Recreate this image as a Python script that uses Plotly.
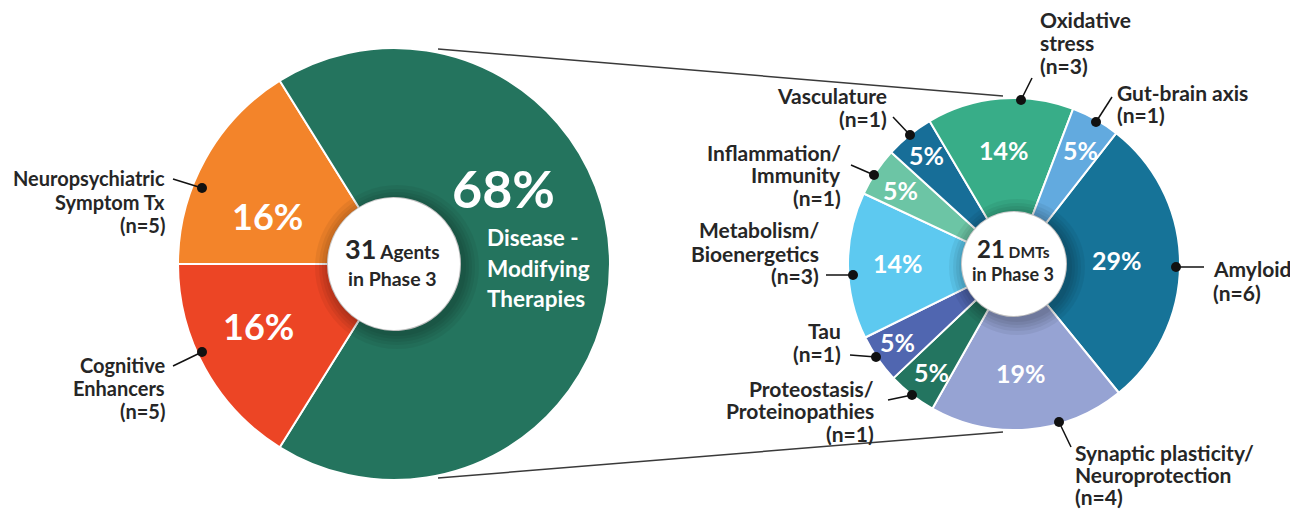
import plotly.graph_objects as go

# the page body adds an 8px margin: the figure is sized/offset so that
# page pixel coordinates match the reference picture
OFF = 8
W, H = 1298 - OFF, 509 - OFF

# ---------------- data ----------------
phase3_labels = ["Neuropsychiatric<br>Symptom Tx", "Disease -<br>Modifying<br>Therapies", "Cognitive<br>Enhancers"]
phase3_counts = [5, 21, 5]
phase3_colors = ["#F3842A", "#24745E", "#EC4525"]

dmt_labels = ["Amyloid", "Synaptic plasticity/<br>Neuroprotection", "Proteostasis/<br>Proteinopathies",
              "Tau", "Metabolism/<br>Bioenergetics", "Inflammation/<br>Immunity", "Vasculature",
              "Oxidative<br>stress", "Gut-brain axis"]
dmt_counts = [6, 4, 1, 1, 3, 1, 1, 3, 1]
dmt_colors = ["#167398", "#96A3D3", "#237560", "#5066B0", "#5DC9F0",
              "#6CC5A5", "#176E98", "#38AD88", "#62AADF"]

FONT = "Lato"
DARK = "#262626"


def fx(x):
    return (x - OFF) / W


def fy(y):
    return 1 - (y - OFF) / H


# geometry (page pixels)
L_C, L_R, L_HOLE = (394, 264), 216, 66
R_C, R_R, R_HOLE = (1014, 264), 166, 52

fig = go.Figure()

fig.add_trace(go.Pie(
    labels=phase3_labels, values=phase3_counts, sort=False, direction="clockwise",
    rotation=270, hole=L_HOLE / L_R, textinfo="none", hoverinfo="label+value+percent",
    marker=dict(colors=phase3_colors, line=dict(color="white", width=2)),
    domain=dict(x=[fx(L_C[0] - L_R), fx(L_C[0] + L_R)], y=[fy(L_C[1] + L_R), fy(L_C[1] - L_R)]),
    showlegend=False,
))

fig.add_trace(go.Pie(
    labels=dmt_labels, values=dmt_counts, sort=False, direction="clockwise",
    rotation=38, hole=R_HOLE / R_R, textinfo="none", hoverinfo="label+value+percent",
    marker=dict(colors=dmt_colors, line=dict(color="white", width=2)),
    domain=dict(x=[fx(R_C[0] - R_R), fx(R_C[0] + R_R)], y=[fy(R_C[1] + R_R), fy(R_C[1] - R_R)]),
    showlegend=False,
))

shapes = []


def circle(cx, cy, r, fill, layer="above"):
    return dict(type="circle", xref="paper", yref="paper",
                x0=fx(cx - r), x1=fx(cx + r), y0=fy(cy + r), y1=fy(cy - r),
                fillcolor=fill, line=dict(width=0), layer=layer)


def seg(x0, y0, x1, y1, color=DARK, width=1.6, layer="above"):
    return dict(type="line", xref="paper", yref="paper",
                x0=fx(x0), y0=fy(y0), x1=fx(x1), y1=fy(y1),
                line=dict(color=color, width=width), layer=layer)


# connector lines between the two donuts
shapes.append(seg(438, 49, 1003, 96, color="#3a3a3a", width=1.5, layer="below"))
shapes.append(seg(438, 478, 1003, 432, color="#3a3a3a", width=1.5, layer="below"))

# soft shadow around the holes + white centre
for (c, hr) in [(L_C, L_HOLE), (R_C, R_HOLE)]:
    for k in [16, 12, 9, 6, 3]:
        shapes.append(circle(c[0] + 3, c[1] + 3, hr + k, "rgba(0,0,0,0.055)"))
    shapes.append(circle(c[0], c[1], hr, "white"))

# leader lines & dots
leaders = [
    ((173, 179), (202, 188)),
    ((173, 366), (202, 352)),
    ((1032, 78), (1021, 100)),
    ((1112, 97), (1096, 122)),
    ((893, 117), (910, 135)),
    ((851, 165), (874, 175)),
    ((826, 275), (853, 275)),
    ((850, 355), (876, 357)),
    ((888, 400), (912, 395)),
    ((1071, 447), (1059, 422)),
    ((1204, 267), (1176, 267)),
]
for (a, b) in leaders:
    shapes.append(seg(a[0], a[1], b[0], b[1], color="#111111", width=1.5))
    shapes.append(circle(b[0], b[1], 5, "#111111"))

ann = []


def text(x, y, s, size, color=DARK, xanchor="center"):
    ann.append(dict(x=fx(x), y=fy(y), xref="paper", yref="paper", text=s, showarrow=False,
                    xanchor=xanchor, yanchor="middle", align=xanchor if xanchor != "center" else "center",
                    font=dict(family=FONT, size=size, color=color, weight="bold")))


def block(x, ys, lines, size, color=DARK, xanchor="left"):
    for (y, s) in zip(ys, lines):
        text(x, y, s, size, color, xanchor)


tot_l = sum(phase3_counts)
tot_r = sum(dmt_counts)
pct_l = [f"{round(100 * v / tot_l)}%" for v in phase3_counts]
pct_r = [f"{round(100 * v / tot_r)}%" for v in dmt_counts]

# left donut texts
text(267, 216, pct_l[0], 36, "white")
text(258, 326, pct_l[2], 36, "white")
text(503, 188, pct_l[1], 52, "white")
block(485, [238, 268, 298], phase3_labels[1].split("<br>"), 22.5, "white", "left")
text(392, 248, f"<span style='font-size:27px'>{tot_l}</span> Agents", 19)
text(392, 278, "in Phase 3", 19.5)

block(167, [178, 202, 225], phase3_labels[0].split("<br>") + [f"(n={phase3_counts[0]})"], 20, xanchor="right")
block(167, [365, 388, 411], phase3_labels[2].split("<br>") + [f"(n={phase3_counts[2]})"], 20, xanchor="right")

# right donut percentages
pct_pos = [(1117, 260), (1021, 373), (931, 372), (897, 342), (898, 263),
           (900, 190), (927, 155), (1004, 150), (1080, 150)]
for (p, s) in zip(pct_pos, pct_r):
    text(p[0], p[1], s, 25, "white")

text(1013, 248, f"<span style='font-size:24px'>{tot_r}</span> DMTs", 15.5)
text(1013, 274, "in Phase 3", 18)

# right donut category labels
label_pos = [
    (1211, [268, 292], "left"),
    (1073, [452, 474, 496], "left"),
    (876, [388, 410, 433], "right"),
    (843, [330, 353], "right"),
    (821, [230, 253, 275], "right"),
    (843, [152, 174, 197], "right"),
    (889, [96, 118], "right"),
    (1038, [19, 42, 65], "left"),
    (1115, [92, 115], "left"),
]
for (lab, n, (x, ys, side)) in zip(dmt_labels, dmt_counts, label_pos):
    block(x, ys, lab.split("<br>") + [f"(n={n})"], 21, xanchor=side)

fig.update_layout(
    width=W, height=H, margin=dict(l=0, r=0, t=0, b=0),
    paper_bgcolor="white", plot_bgcolor="white",
    shapes=shapes, annotations=ann, showlegend=False,
)

fig.write_html("out.html")
